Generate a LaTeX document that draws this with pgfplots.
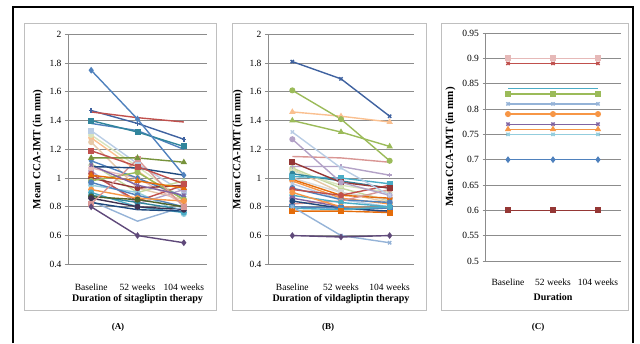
\documentclass[border=0pt]{standalone}
\usepackage{fontspec}
\setmainfont{Liberation Serif}
\usepackage{pgfplots}
\pgfplotsset{compat=1.18}
\definecolor{gridc}{HTML}{8C8C8C}
\definecolor{boxc}{HTML}{BFBFBF}
\definecolor{cA}{HTML}{4F81BD}
\definecolor{cB}{HTML}{C0504D}
\definecolor{cC}{HTML}{9BBB59}
\definecolor{cD}{HTML}{8064A2}
\definecolor{cE}{HTML}{4BACC6}
\definecolor{cF}{HTML}{F79646}
\definecolor{cG}{HTML}{1F497D}
\definecolor{cH}{HTML}{953735}
\definecolor{cI}{HTML}{77933C}
\definecolor{cJ}{HTML}{5F497A}
\definecolor{cK}{HTML}{31859C}
\definecolor{cL}{HTML}{E46C0A}
\definecolor{cM}{HTML}{95B3D7}
\definecolor{cN}{HTML}{D99694}
\definecolor{cO}{HTML}{C3D69B}
\definecolor{cP}{HTML}{B3A2C7}
\definecolor{cQ}{HTML}{93CDDD}
\definecolor{cR}{HTML}{FAC090}
\definecolor{cS}{HTML}{B9CDE5}
\definecolor{cT}{HTML}{E6B9B8}
\definecolor{cU}{HTML}{D7E4BD}
\definecolor{cV}{HTML}{4F6228}
\definecolor{cW}{HTML}{403151}
\definecolor{cX}{HTML}{E6C9A8}
\definecolor{cY}{HTML}{3F62A0}
\newcommand{\ser}[5]{\addplot[color=#1, mark=#2] coordinates {(0.5,#3) (1.5,#4) (2.5,#5)};}
\pgfplotsset{
  panel/.style={
    scale only axis, anchor=south west,
    xmin=0, xmax=3,
    xtick={0.5,1.5,2.5},
    xticklabels={Baseline,52 weeks,104 weeks},
    axis lines*=left,
    axis line style={gridc, line width=0.6pt},
    ymajorgrids, grid style={gridc, line width=0.6pt},
    x tick style={draw=none},
    y tick style={gridc, line width=0.6pt},
    tick align=outside, major tick length=3pt,
    ticklabel style={font=\fontsize{9.5}{11}\selectfont},
    xticklabel style={yshift=-13pt},
    /pgf/number format/assume math mode=true,
    /pgf/number format/fixed,
    xlabel style={font=\bfseries\fontsize{10}{12}\selectfont, yshift=3pt},
    ylabel style={font=\bfseries\fontsize{11}{13}\selectfont},
    every axis plot/.append style={line width=1.4pt, mark size=2.3pt, mark options={solid}},
    clip=false,
  }
}
\begin{document}
\begin{tikzpicture}[x=1pt,y=1pt]
\path[use as bounding box] (0,0) rectangle (640,343);
% outer frame
\draw[line width=1.4pt] (13,0) -- (13,336) -- (633,336) -- (633,0);
\draw[line width=2.5pt] (13,336) -- (633,336);
% panel boxes
\draw[boxc, line width=0.6pt] (24,33) rectangle (216,320);
\draw[boxc, line width=0.6pt] (232,33) rectangle (426,320);
\draw[boxc, line width=0.6pt] (441,33) rectangle (628,320);
\node[font=\bfseries\fontsize{9}{11}\selectfont] at (118,16) {(A)};
\node[font=\bfseries\fontsize{9}{11}\selectfont] at (328,16) {(B)};
\node[font=\bfseries\fontsize{9}{11}\selectfont] at (538,16) {(C)};

% Panel A
\begin{axis}[panel, at={(68pt,78.7pt)}, width=139pt, height=230pt,
  ymin=0.4, ymax=2, ytick={0.4,0.6,...,2.01},
  xlabel={Duration of sitagliptin therapy}, ylabel={Mean CCA-IMT (in mm)}]
\ser{cR}{*}{1.28}{1.05}{0.82}
\ser{cU}{*}{1.30}{1.08}{0.85}
\ser{cX}{*}{1.25}{0.93}{0.85}
\ser{cS}{square*}{1.33}{1.10}{0.90}
\ser{cO}{triangle*}{1.10}{0.90}{0.98}
\ser{cP}{*}{1.05}{0.82}{0.92}
\ser{cQ}{*}{0.95}{0.90}{0.75}
\ser{cT}{*}{1.07}{1.00}{0.82}
\ser{cA}{diamond*}{1.12}{1.00}{0.87}
\ser{cB}{*}{1.03}{0.84}{0.95}
\ser{cH}{*}{1.00}{0.93}{0.95}
\ser{cC}{*}{0.98}{1.04}{0.85}
\ser{cA}{*}{0.97}{0.88}{0.80}
\ser{cF}{*}{0.92}{0.86}{0.84}
\ser{cE}{*}{0.90}{0.80}{0.76}
\ser{cK}{*}{0.88}{0.83}{0.78}
\ser{cV}{*}{0.87}{0.85}{0.80}
\ser{cW}{*}{0.86}{0.80}{0.78}
\ser{cM}{none}{0.84}{0.70}{0.80}
\ser{cG}{none}{0.83}{0.78}{0.77}
\ser{cN}{square*}{0.82}{1.13}{0.80}
\ser{cL}{triangle*}{1.02}{0.98}{0.93}
\ser{cD}{x}{1.09}{0.95}{0.88}
\ser{cG}{none}{1.08}{1.07}{1.02}
\ser{cI}{triangle*}{1.14}{1.14}{1.11}
\ser{cB}{square*}{1.19}{1.08}{0.96}
\ser{cA}{none}{1.38}{1.33}{1.20}
\ser{cK}{square*}{1.40}{1.32}{1.22}
\ser{cY}{+}{1.47}{1.38}{1.27}
\ser{cB}{none}{1.46}{1.42}{1.39}
\ser{cA}{diamond*}{1.75}{1.41}{1.02}
\ser{cJ}{diamond*}{0.80}{0.60}{0.55}
\end{axis}

% Panel B
\begin{axis}[panel, at={(268pt,78.7pt)}, width=146pt, height=230pt,
  ymin=0.4, ymax=2, ytick={0.4,0.6,...,2.01},
  xlabel={Duration of vildagliptin therapy}, ylabel={Mean CCA-IMT (in mm)}]
\ser{cX}{*}{1.06}{0.90}{0.83}
\ser{cO}{*}{1.07}{0.93}{0.84}
\ser{cU}{*}{1.05}{0.95}{0.90}
\ser{cK}{*}{1.03}{0.98}{0.93}
\ser{gray!30}{square*}{1.00}{0.90}{0.85}
\ser{cL}{*}{0.99}{0.88}{0.86}
\ser{cF}{*}{0.98}{0.86}{0.82}
\ser{cS}{x}{0.96}{0.85}{0.80}
\ser{cA}{*}{0.93}{0.85}{0.83}
\ser{cN}{*}{0.82}{0.84}{0.92}
\ser{cB}{*}{0.92}{0.88}{0.95}
\ser{cE}{*}{0.88}{0.83}{0.80}
\ser{cD}{*}{0.86}{0.80}{0.76}
\ser{cG}{*}{0.84}{0.79}{0.77}
\ser{cF}{*}{0.90}{0.80}{0.79}
\ser{cA}{square*}{0.80}{0.79}{0.79}
\ser{cE}{*}{0.79}{0.78}{0.80}
\ser{cL}{square*}{0.77}{0.77}{0.76}
\ser{cE}{square*}{1.01}{1.00}{0.96}
\ser{cP}{+}{1.08}{1.08}{1.02}
\ser{cH}{square*}{1.11}{0.97}{0.93}
\ser{cN}{none}{1.15}{1.14}{1.11}
\ser{cP}{*}{1.27}{0.97}{0.88}
\ser{cS}{x}{1.32}{1.07}{0.88}
\ser{cC}{triangle*}{1.40}{1.32}{1.22}
\ser{cR}{triangle*}{1.46}{1.43}{1.39}
\ser{cC}{*}{1.61}{1.41}{1.12}
\ser{cY}{x}{1.81}{1.69}{1.43}
\ser{cM}{x}{0.80}{0.60}{0.55}
\ser{cJ}{diamond*}{0.60}{0.59}{0.60}
\end{axis}

% Panel C
\begin{axis}[panel, at={(485.5pt,82pt)}, width=135pt, height=228pt,
  ymin=0.5, ymax=0.95, ytick={0.5,0.55,...,0.951},
  yticklabel style={/pgf/number format/precision=2},
  xticklabel style={yshift=2pt},
  xlabel style={yshift=-4pt},
  xlabel={Duration}, ylabel={Mean CCA-IMT (in mm)}]
\ser{cT}{square*}{0.90}{0.90}{0.90}
\ser{cB}{x}{0.89}{0.89}{0.89}
\ser{cE}{none}{0.84}{0.84}{0.84}
\ser{cC}{square*}{0.83}{0.83}{0.83}
\ser{cM}{x}{0.81}{0.81}{0.81}
\ser{cF}{*}{0.79}{0.79}{0.79}
\ser{cD}{x}{0.77}{0.77}{0.77}
\ser{cQ}{x}{0.75}{0.75}{0.75}
\ser{cF}{triangle*}{0.76}{0.76}{0.76}
\ser{cA}{diamond*}{0.70}{0.70}{0.70}
\ser{cH}{square*}{0.60}{0.60}{0.60}
\end{axis}
\end{tikzpicture}
\end{document}
